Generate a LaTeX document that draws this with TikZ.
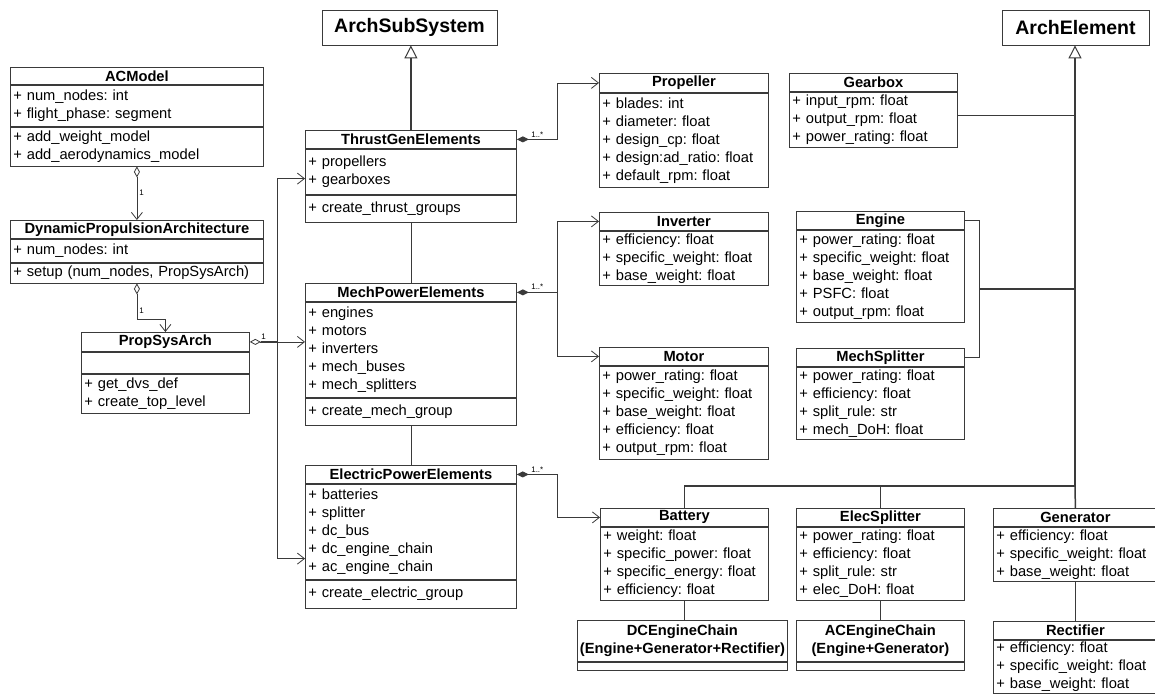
\documentclass[tikz,border=0pt]{standalone}
\usepackage{fontspec}
\setmainfont{Liberation Sans}
\usetikzlibrary{arrows.meta,positioning,calc}
\definecolor{umlgray}{HTML}{3A3A3A}
\newcommand{\attrfont}{\fontsize{14.7pt}{18pt}\selectfont}
\newcommand{\headfont}{\bfseries\fontsize{14.7pt}{18pt}\selectfont}
\newcommand{\superfont}{\bfseries\fontsize{19.5pt}{22pt}\selectfont}
\newcommand{\multfont}{\fontsize{8pt}{9pt}\selectfont}

\tikzset{
  umlbox/.style={draw=umlgray, fill=white, line width=0.8pt, inner ysep=0pt},
  superclass/.style={umlbox, font=\superfont, inner xsep=0pt, minimum width=#1pt, minimum height=35pt},
  head/.style n args={2}{umlbox, font=\headfont, align=center, anchor=north west, inner xsep=0pt,
    minimum width=#1pt, minimum height=#2pt},
  comp/.style n args={3}{umlbox, font=\attrfont, align=left, inner xsep=3pt, below=0pt of #1,
    /utils/exec={\pgfmathsetmacro\compw{#2-6}}, text width=\compw pt, minimum height=#3pt},
  link/.style={draw=umlgray, line width=0.8pt},
  wide/.style={link, line width=1.5pt},
  inherit/.style={link, line width=1.6pt, -{Triangle[open, length=13pt, width=13pt, line width=1pt]}},
  assoc/.style={link, -{Straight Barb[length=7pt, width=11pt]}},
  aggr/.style={link, {Diamond[open, length=11pt, width=6pt]}-{Straight Barb[length=7pt, width=11pt]}},
  compo/.style={link, {Diamond[length=12pt, width=6pt]}-{Straight Barb[length=7pt, width=11pt]}},
  mult/.style={font=\multfont, inner sep=2pt}
}

\begin{document}
\frenchspacing
\begin{tikzpicture}[x=1pt, y=-1pt]
\fill[white, use as bounding box] (0,0) rectangle (1155,693);

\node[superclass=175] (sub) at (409.5,27.5) {ArchSubSystem};
\node[superclass=147] (elem) at (1075.5,27.5) {ArchElement};

% model side
\node[head={253}{17}] (acm) at (10,67) {ACModel};
\node[comp={acm}{253}{41}] (acm-a) {+ num\_nodes: int\\+ flight\_phase: segment};
\node[comp={acm-a}{253}{39}] (acm-m) {+ add\_weight\_model\\+ add\_aerodynamics\_model};

\node[head={253}{18}] (dpa) at (10,220) {DynamicPropulsionArchitecture};
\node[comp={dpa}{253}{23}] (dpa-a) {+ num\_nodes: int};
\node[comp={dpa-a}{253}{20}] (dpa-m) {+ setup (num\_nodes, PropSysArch)};

\node[head={168}{19}] (psa) at (81,332) {PropSysArch};
\node[comp={psa}{168}{21}] (psa-a) {};
\node[comp={psa-a}{168}{39}] (psa-m) {+ get\_dvs\_def\\+ create\_top\_level};

% subsystems
\node[head={211}{18}] (tge) at (305,130) {ThrustGenElements};
\node[comp={tge}{211}{45}] (tge-a) {+ propellers\\+ gearboxes};
\node[comp={tge-a}{211}{27}] (tge-m) {+ create\_thrust\_groups};

\node[head={211}{18}] (mpe) at (305,283) {MechPowerElements};
\node[comp={mpe}{211}{95}] (mpe-a) {+ engines\\+ motors\\+ inverters\\+ mech\_buses\\+ mech\_splitters};
\node[comp={mpe-a}{211}{27}] (mpe-m) {+ create\_mech\_group};

\node[head={211}{18}] (epe) at (305,465) {ElectricPowerElements};
\node[comp={epe}{211}{95}] (epe-a) {+ batteries\\+ splitter\\+ dc\_bus\\+ dc\_engine\_chain\\+ ac\_engine\_chain};
\node[comp={epe-a}{211}{28}] (epe-m) {+ create\_electric\_group};

% elements
\node[head={169}{19}] (prop) at (599,73) {Propeller};
\node[comp={prop}{169}{94}] (prop-a) {+ blades: int\\+ diameter: float\\+ design\_cp: float\\+ design:ad\_ratio: float\\+ default\_rpm: float};

\node[head={169}{18}] (inv) at (599,212) {Inverter};
\node[comp={inv}{169}{54}] (inv-a) {+ efficiency: float\\+ specific\_weight: float\\+ base\_weight: float};

\node[head={169}{18}] (mot) at (599,347) {Motor};
\node[comp={mot}{169}{93}] (mot-a) {+ power\_rating: float\\+ specific\_weight: float\\+ base\_weight: float\\+ efficiency: float\\+ output\_rpm: float};

\node[head={168}{18}] (gear) at (789,73) {Gearbox};
\node[comp={gear}{168}{55}] (gear-a) {+ input\_rpm: float\\+ output\_rpm: float\\+ power\_rating: float};

\node[head={168}{18}] (eng) at (796,211) {Engine};
\node[comp={eng}{168}{92}] (eng-a) {+ power\_rating: float\\+ specific\_weight: float\\+ base\_weight: float\\+ PSFC: float\\+ output\_rpm: float};

\node[head={168}{18}] (msp) at (796,348) {MechSplitter};
\node[comp={msp}{168}{72}] (msp-a) {+ power\_rating: float\\+ efficiency: float\\+ split\_rule: str\\+ mech\_DoH: float};

\node[head={168}{18}] (bat) at (600,508) {Battery};
\node[comp={bat}{168}{73}] (bat-a) {+ weight: float\\+ specific\_power: float\\+ specific\_energy: float\\+ efficiency: float};

\node[head={168}{18}] (esp) at (796,508) {ElecSplitter};
\node[comp={esp}{168}{73}] (esp-a) {+ power\_rating: float\\+ efficiency: float\\+ split\_rule: str\\+ elec\_DoH: float};

\node[head={164}{18}] (gen) at (993,508) {Generator};
\node[comp={gen}{164}{54}] (gen-a) {+ efficiency: float\\+ specific\_weight: float\\+ base\_weight: float};

\node[head={164}{18}] (rect) at (993,621) {Rectifier};
\node[comp={rect}{164}{53}] (rect-a) {+ efficiency: float\\+ specific\_weight: float\\+ base\_weight: float};

\node[head={210}{41}] (dcc) at (577,620) {DCEngineChain\\(Engine+Generator+Rectifier)};
\node[comp={dcc}{210}{8}] (dcc-a) {};

\node[head={168}{41}] (acc) at (796,620) {ACEngineChain\\(Engine+Generator)};
\node[comp={acc}{168}{8}] (acc-a) {};

% connectors, left
\draw[aggr] (acm-m.south) -- (dpa.north) node[mult, right, midway] {1};
\draw[aggr] (dpa-m.south) -- ++(0,36) node[mult, right, pos=.75] {1} -| (psa.north);

\draw[aggr] (psa.east) -- (psa.east -| mpe-a.west) node[mult, above, pos=.25] {1};
\coordinate (pj) at ($(psa.east)!.5!(psa.east -| mpe-a.west)$);
\draw[wide] ([xshift=11pt]psa.east) -- (pj);
\draw[assoc] (pj) |- ([yshift=16pt]tge-a.south west);
\draw[assoc] (pj) |- ([yshift=21pt]epe-a.south west);

% connectors, middle
\draw[inherit] (tge.north) -- (tge.north |- sub.south);
\draw[link] (tge-m.south) -- (mpe.north);
\draw[link] (mpe-m.south) -- (epe.north);

\draw[compo] (tge.east) -- ++(41,0) node[mult, above, midway] {1..*} |- (prop.west);
\coordinate (mj) at ($(mpe.east)+(41,0)$);
\draw[wide, {Diamond[length=12pt, width=6pt]}-] (mpe.east) -- (mj) node[mult, above, midway] {1..*};
\draw[assoc] (mj) |- (inv.west);
\draw[assoc] (mj) |- (mot.west);
\draw[compo] (epe.east) -- ++(41,0) node[mult, above, midway] {1..*} |- (bat.west);

% connectors, right
\coordinate (hub) at (1075,486);
\draw[inherit] (hub) -- (hub |- elem.south);
\coordinate (gj) at ([yshift=4pt]gear-a.east);
\draw[wide] (gj) -- (gj -| hub);
\coordinate (brk) at ($(eng.east)!.5!(msp.east)+(15,0)$);
\draw[link] (eng.east) -| (brk) |- (msp.east);
\draw[wide] (brk) -- (brk -| hub);
\draw[wide] (bat.north) |- (hub);
\draw[link] (esp.north) -- (esp.north |- hub);
\draw[wide] (gen.north) -- (hub);

\draw[link] (bat-a.south) -- (bat-a.south |- dcc.north);
\draw[link] (esp-a.south) -- (acc.north);
\draw[link] (gen-a.south) -- (rect.north);
\end{tikzpicture}
\end{document}
